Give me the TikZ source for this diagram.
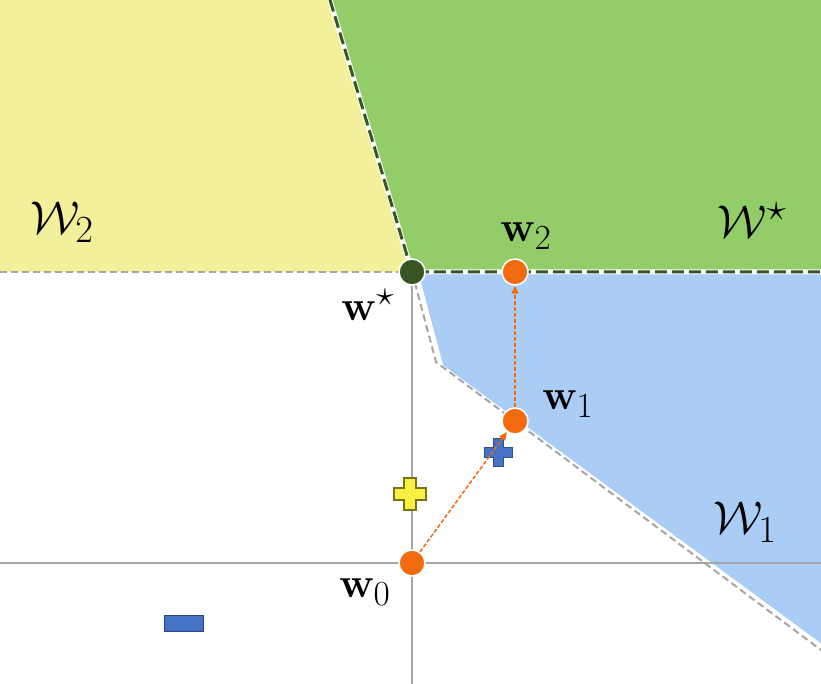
\documentclass[tikz,border=0pt]{standalone}
\usepackage{amsmath,bm,graphicx}
\usetikzlibrary{arrows.meta}
\definecolor{yel}{HTML}{F2F09A}
\definecolor{grn}{HTML}{92CD6A}
\definecolor{blu}{HTML}{A9CDF5}
\definecolor{dgrn}{HTML}{375623}
\definecolor{org}{HTML}{F26A0F}
\definecolor{bplus}{HTML}{4472C4}
\tikzset{
 pt/.style={circle,fill=org,draw=white,line width=1.5pt,minimum size=26pt,inner sep=0},
 gdash/.style={gray!70,dashed,line width=2pt,dash pattern=on 7pt off 4pt},
 ddash/.style={dgrn,line width=3pt,dash pattern=on 12pt off 5pt},
 step arrow/.style={org,line width=1.5pt,dash pattern=on 4pt off 2pt,-{Triangle[length=8pt,width=7pt]}}
}
\newcommand{\bigL}[1]{\scalebox{1.85}{\Huge$#1$}}
\newcommand{\wL}[1]{\scalebox{1.7}{\Huge$#1$}}
\newcommand{\plusshape}[4]{%
 (#1-#4,#2-#3)--(#1+#4,#2-#3)--(#1+#4,#2-#4)--(#1+#3,#2-#4)--(#1+#3,#2+#4)--(#1+#4,#2+#4)--(#1+#4,#2+#3)--(#1-#4,#2+#3)--(#1-#4,#2+#4)--(#1-#3,#2+#4)--(#1-#3,#2-#4)--(#1-#4,#2-#4)--cycle}
\begin{document}
\begin{tikzpicture}[x=1pt,y=-1pt]
\useasboundingbox (0,0) rectangle (821,684);
\fill[white] (0,0) rectangle (821,684);
\fill[yel] (0,0)--(330,0)--(412,272)--(0,272)--cycle;
\fill[grn] (330,0)--(821,0)--(821,272)--(412,272)--cycle;
\fill[blu] (418,272)--(821,272)--(821,645)--(442,366)--cycle;
\draw[white,line width=2.5pt] (418,276)--(442,366)--(821,645);
\draw[gray!70,line width=1.5pt] (412,272)--(412,684) (0,563)--(821,563);
\draw[gdash] (0,272)--(412,272);
\draw[gdash] (412,272)--(436,362)--(821,650);
\draw[white,line width=5pt] (330,0)--(412,272)--(821,272);
\draw[ddash] (330,0)--(412,272)--(821,272);
\fill[yellow!60!yel,draw=olive!80!black,line width=1.2pt] \plusshape{410}{494}{16}{6};
\fill[bplus,draw=bplus!70!black,line width=1pt] \plusshape{498}{452}{14}{5};
\fill[bplus,draw=bplus!60!black,line width=1pt] (164,615) rectangle (203,631);
\node[pt] (w0) at (412,563) {};
\node[pt] (w1) at (515,421) {};
\node[pt] (w2) at (515,272) {};
\node[pt,fill=dgrn] (ws) at (412,272) {};
\draw[step arrow] (w0) -- (w1);
\draw[step arrow] (w1) -- (w2);
\node (l2) at (62,222) {\bigL{\mathcal{W}_2}};
\node (ls) at (752,220) {\bigL{\mathcal{W}^\star}};
\node (l1) at (745,522) {\bigL{\mathcal{W}_1}};
\node (t2) at (526,236) {\wL{\mathbf{w}_2}};
\node (ts) at (368,305) {\wL{\mathbf{w}^\star}};
\node (t1) at (568,404) {\wL{\mathbf{w}_1}};
\node (t0) at (365,592) {\wL{\mathbf{w}_0}};
\end{tikzpicture}
\end{document}
